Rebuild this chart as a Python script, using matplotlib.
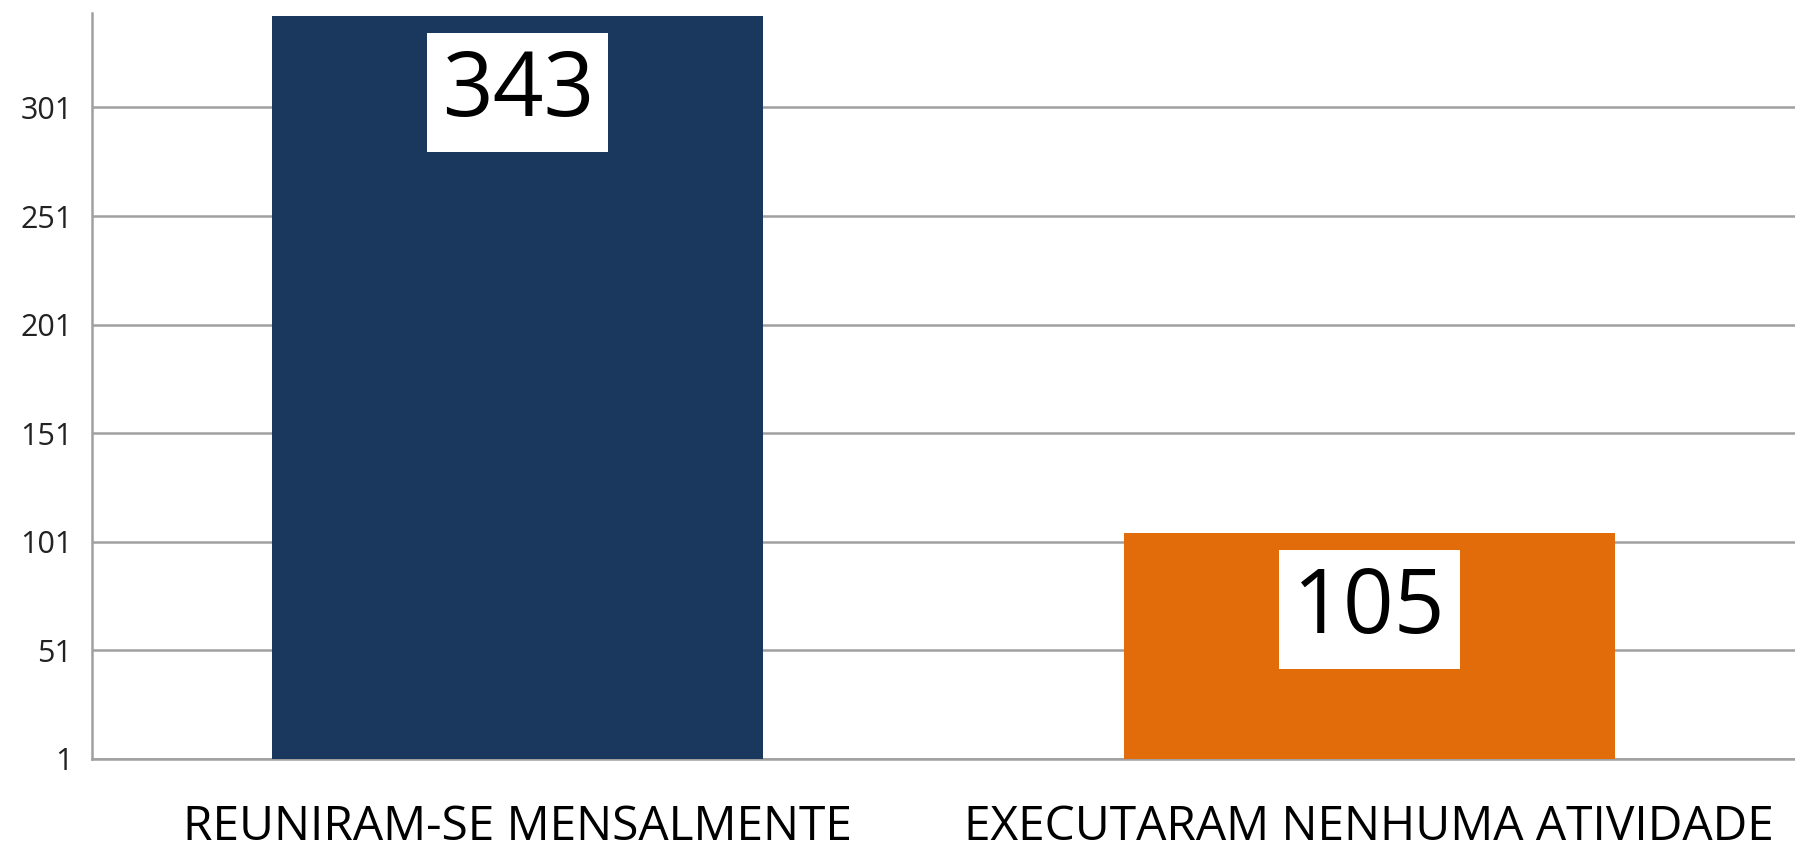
import matplotlib.pyplot as plt

categories = ['REUNIRAM-SE MENSALMENTE', 'EXECUTARAM NENHUMA ATIVIDADE']
values = [343, 105]
colors = ['#1A375E', '#E36C0A']
yticks = [1, 51, 101, 151, 201, 251, 301]

plt.rcParams['font.family'] = ['Open Sans', 'DejaVu Sans']

fig = plt.figure(figsize=(17.95, 8.51), dpi=100)
ax = fig.add_axes([92 / 1795, 92 / 851, 1 - 92 / 1795, (759 - 13) / 851])

x = range(len(categories))
ax.bar(x, values, width=0.577, color=colors, zorder=3)

# value labels in white boxes just under the top of each bar
for xi, v in zip(x, values):
    ax.annotate(str(v), (xi, v), xytext=(0, -55), textcoords='offset points',
                ha='center', va='center', fontsize=64, color='black', zorder=4,
                bbox=dict(boxstyle='square,pad=0.16', fc='white', ec='none'))

ax.set_xlim(-0.5, 1.5)
ax.set_ylim(1, 344.5)
ax.set_yticks(yticks)
ax.set_xticks(list(x))
ax.set_xticklabels(categories, fontsize=34.5, color='black')
ax.tick_params(axis='y', length=0, pad=14, labelsize=22, labelcolor='#222222')
ax.tick_params(axis='x', length=0, pad=32)

ax.yaxis.grid(True, color='#A0A0A0', linewidth=1.8, zorder=0)
for s in ['top', 'right']:
    ax.spines[s].set_visible(False)
for s in ['left', 'bottom']:
    ax.spines[s].set_color('#A0A0A0')
    ax.spines[s].set_linewidth(1.8)

fig.savefig('out.png', dpi=100)
